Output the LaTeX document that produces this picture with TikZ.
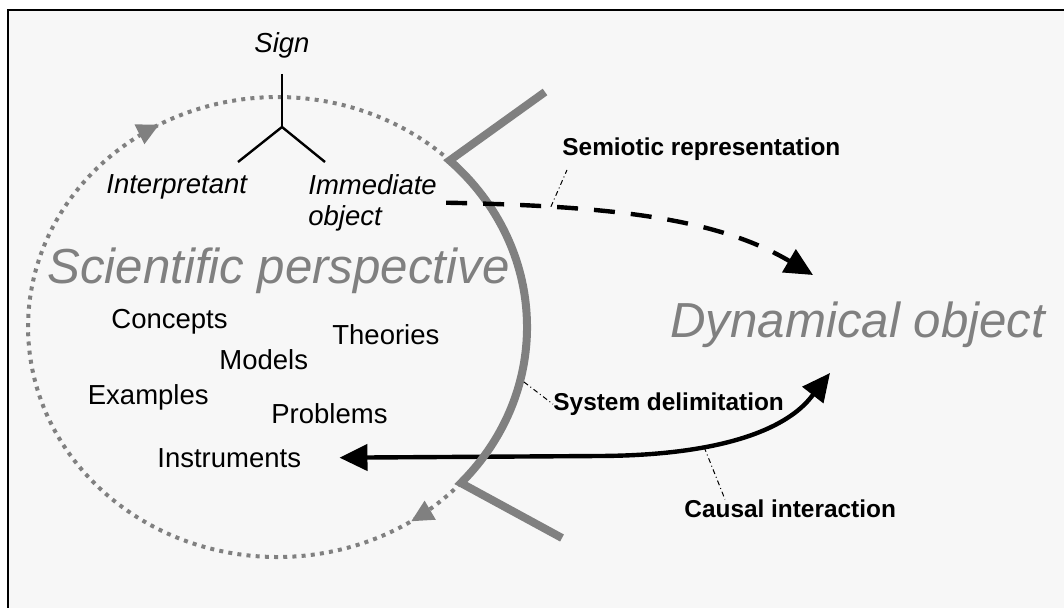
\documentclass[tikz,border=0pt]{standalone}
\usepackage{fontspec}
\setmainfont{Liberation Sans}
\usepackage{tikz}
\usetikzlibrary{arrows.meta,decorations.markings,positioning}

\definecolor{bggray}{RGB}{247,247,247}
\definecolor{markgray}{RGB}{128,128,128}

\begin{document}
\begin{tikzpicture}[x=0.5pt,y=-0.5pt,
    notion/.style={inner sep=0pt,anchor=base west,font=\fontsize{13.75}{15.5}\selectfont},
    peirce/.style={notion,font=\fontsize{13.75}{15.5}\selectfont\itshape},
    lbl/.style={inner sep=0pt,anchor=base west,font=\fontsize{12.2}{14}\selectfont\bfseries},
    bigname/.style={inner sep=0pt,anchor=base west,text=markgray,font=\fontsize{24.6}{28}\selectfont\itshape},
    frame/.style={draw=black,line width=1pt,fill=bggray},
    rim/.style={draw=markgray,line width=4pt,line join=miter},
    orbit/.style={draw=markgray,line width=2pt,dash pattern=on 2pt off 2.6pt,
        decoration={markings,
            mark=at position 0.055 with {\arrow{Triangle[length=11pt,width=10.5pt]}},
            mark=at position 0.729 with {\arrow{Triangle[length=11pt,width=10.5pt]}}},
        postaction={decorate}},
    forkline/.style={line width=1.2pt},
    tri/.tip={Triangle[length=14pt,width=13pt]},
    semio/.style={line width=2.2pt,dash pattern=on 10.5pt off 8pt,-tri},
    causal/.style={line width=2.2pt,tri-tri},
    leader/.style={line width=0.5pt,dash pattern=on 2.5pt off 1.5pt on 0.5pt off 1.5pt}
    ]
    \useasboundingbox (0,0) rectangle (1064,608);
    \clip (0,0) rectangle (1064,608);
    \fill[white] (0,0) rectangle (1064,608);
    \draw[frame] (8,10) rectangle (1080,620);

    \coordinate (rimtop) at (449.6,160.5);
    \coordinate (rimbot) at (460.9,483);
    \coordinate (rimup) at (545,92);
    \coordinate (rimdown) at (562,538);
    \coordinate (fork) at (282,127);
    \coordinate (forkl) at (238,162);
    \coordinate (forkr) at (325,162);
    \coordinate (delim) at (524,382);
    \coordinate (semend) at (813,275);
    \coordinate (causbend) at (600,456);
    \coordinate (causend) at (830,373);

    \path
        (282,74)    node[peirce,anchor=south,inner ysep=7.5pt] (sign){Sign}
        (106,194)   node[peirce] (interp){Interpretant}
        (308,174)   node[peirce,anchor=north west,align=left] (imm){Immediate\\object}
        (47,284)    node[bigname] (persp){Scientific perspective}
        (670,338)   node[bigname] (dyn){Dynamical object}
        (111,329)   node[notion] (concepts){Concepts}
        (332,345)   node[notion] (theories){Theories}
        (219,370)   node[notion] (models){Models}
        (87.5,405)  node[notion] (examples){Examples}
        (271,423)   node[notion] (problems){Problems}
        (157,467)   node[notion] (instr){Instruments}
        (562,155.5) node[lbl] (sem){Semiotic representation}
        (553,410.5) node[lbl] (sysdel){System delimitation}
        (684,517.5) node[lbl] (caus){Causal interaction}
        ;

    \draw[causal] ([xshift=19pt]instr.east) -- (causbend)
        .. controls (770,455) and (805,405) .. (causend) coordinate[pos=0.25] (causfoot);
    \draw[rim] (rimup) -- (rimtop)
        arc[start angle=-46.4,end angle=42.7,x radius=249.5,y radius=230] -- (rimdown);
    \draw[orbit] (rimbot) arc[start angle=42.7,end angle=313.6,x radius=249.5,y radius=230];
    \draw[semio] ([xshift=4.5pt]imm.east)
        .. controls (620,206) and (720,220) .. (semend) coordinate[pos=0.22] (semfoot);

    \draw[forkline] (sign.south) -- (fork);
    \draw[forkline] (fork) -- (forkl);
    \draw[forkline] (fork) -- (forkr);

    \draw[leader] (semfoot) -- ([xshift=2.5pt,yshift=-4.5pt]sem.south west);
    \draw[leader] (delim) -- (sysdel.west);
    \draw[leader] (causfoot) -- ([xshift=20.5pt]caus.north west);
\end{tikzpicture}
\end{document}
